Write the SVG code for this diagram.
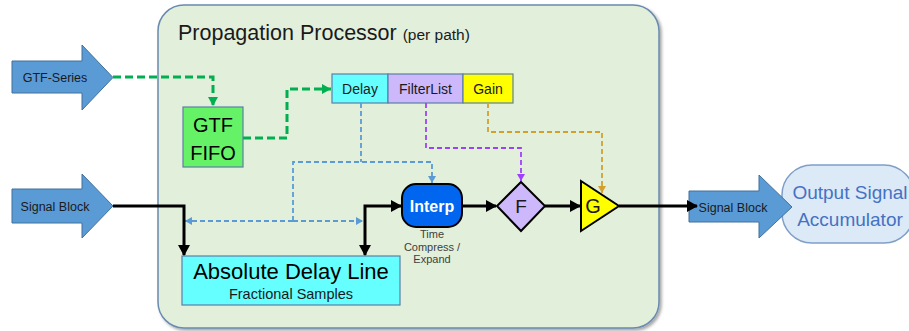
<svg xmlns="http://www.w3.org/2000/svg" width="909" height="331" viewBox="0 0 909 331">
  <defs>
    <style>
      text { font-family: "Liberation Sans", Arial, sans-serif; }
      .blk { fill: #5b9bd5; stroke: #41719c; stroke-width: 1; }
      .blkTxt { font-size: 12.5px; fill: #1a1a1a; }
      .box { stroke: #5b7fa6; stroke-width: 1.2; }
      .flow { fill: none; stroke: #000; stroke-width: 3; }
      .gtf { fill: none; stroke: #00b050; stroke-width: 3; stroke-dasharray: 8 4; }
      .dly { fill: none; stroke: #5b9bd5; stroke-width: 1.8; stroke-dasharray: 5 3; }
      .flt { fill: none; stroke: #a040ff; stroke-width: 1.8; stroke-dasharray: 5 3; }
      .gn { fill: none; stroke: #d4a02a; stroke-width: 1.8; stroke-dasharray: 5 3; }
    </style>
    <filter id="shadow" x="-5%" y="-5%" width="110%" height="110%">
      <feDropShadow dx="2" dy="2" stdDeviation="1.5" flood-color="#000" flood-opacity="0.35"/>
    </filter>
    <marker id="ahBlack" markerUnits="userSpaceOnUse" markerWidth="12" markerHeight="12" refX="10" refY="6" orient="auto-start-reverse">
      <path d="M0,0 L11,6 L0,12 Z" fill="#000"/>
    </marker>
    <marker id="ahGreen" markerUnits="userSpaceOnUse" markerWidth="10" markerHeight="10" refX="9" refY="5" orient="auto">
      <path d="M0,0 L9,5 L0,10 Z" fill="#00b050"/>
    </marker>
    <marker id="ahBlue" markerUnits="userSpaceOnUse" markerWidth="8" markerHeight="8" refX="7" refY="4" orient="auto">
      <path d="M0,0 L7,4 L0,8 Z" fill="#5b9bd5"/>
    </marker>
    <marker id="ahPurple" markerUnits="userSpaceOnUse" markerWidth="8" markerHeight="8" refX="7" refY="4" orient="auto">
      <path d="M0,0 L7,4 L0,8 Z" fill="#a040ff"/>
    </marker>
    <marker id="ahGold" markerUnits="userSpaceOnUse" markerWidth="8" markerHeight="8" refX="7" refY="4" orient="auto">
      <path d="M0,0 L7,4 L0,8 Z" fill="#d4a02a"/>
    </marker>
  </defs>

  <rect width="909" height="331" fill="#fff"/>

  <!-- Processor container -->
  <g id="propagation-processor">
    <rect x="158" y="5" width="501" height="323" rx="26" fill="#e2efda" stroke="#6a8bb0" stroke-width="1.5" filter="url(#shadow)"/>
    <text x="178" y="40" font-size="21.5" fill="#1a1a1a">Propagation Processor <tspan font-size="15.5">(per path)</tspan></text>
  </g>

  <!-- Input block arrows -->
  <g id="gtf-series">
    <path class="blk" d="M12,61 H82 V45 L113,77.5 L82,110 V93 H12 Z"/>
    <text class="blkTxt" x="55" y="82" text-anchor="middle">GTF-Series</text>
  </g>
  <g id="signal-block-in">
    <path class="blk" d="M12,189 H82 V174 L113,206 L82,238 V223 H12 Z"/>
    <text class="blkTxt" x="55" y="211" text-anchor="middle">Signal Block</text>
  </g>

  <g id="gtf-fifo">
    <rect class="box" x="183" y="107" width="60" height="60" fill="#66f266"/>
    <text x="213" y="132" font-size="20" text-anchor="middle" fill="#000">GTF</text>
    <text x="213" y="160" font-size="20" text-anchor="middle" fill="#000">FIFO</text>
  </g>

  <!-- Parameter record: Delay | FilterList | Gain -->
  <g id="params">
    <rect class="box" x="332" y="74" width="56" height="29" fill="#66ffff"/>
    <rect class="box" x="388" y="74" width="75" height="29" fill="#ccb8fa"/>
    <rect class="box" x="463" y="74" width="50" height="29" fill="#ffff00"/>
    <text x="360" y="93.5" font-size="14" text-anchor="middle" fill="#1a1a1a">Delay</text>
    <text x="425.5" y="93.5" font-size="14" text-anchor="middle" fill="#1a1a1a">FilterList</text>
    <text x="488" y="93.5" font-size="14" text-anchor="middle" fill="#1a1a1a">Gain</text>
  </g>

  <g id="delay-line">
    <rect class="box" x="182" y="256" width="218" height="49" fill="#66ffff"/>
    <text x="291" y="279" font-size="22" text-anchor="middle" fill="#000">Absolute Delay Line</text>
    <text x="291" y="299" font-size="14.5" text-anchor="middle" fill="#1a1a1a">Fractional Samples</text>
  </g>

  <g id="interp">
    <rect x="402" y="184" width="60" height="43" rx="14" fill="#0066f0" stroke="#000" stroke-width="2"/>
    <text x="432" y="211.5" font-size="16" font-weight="bold" text-anchor="middle" fill="#fff">Interp</text>
    <text x="432" y="238" font-size="11" text-anchor="middle" fill="#404040">Time</text>
    <text x="432" y="250.5" font-size="11" text-anchor="middle" fill="#404040">Compress /</text>
    <text x="432" y="263" font-size="11" text-anchor="middle" fill="#404040">Expand</text>
  </g>

  <g id="filter">
    <polygon points="521,182 545,206 521,231 497,206" fill="#ccb8fa" stroke="#000" stroke-width="2"/>
    <text x="521" y="213" font-size="19" text-anchor="middle" fill="#1a1a1a">F</text>
  </g>

  <g id="gain">
    <polygon points="581,181 619,206 581,231" fill="#ffff00" stroke="#000" stroke-width="2"/>
    <text x="593" y="213" font-size="20" text-anchor="middle" fill="#1a1a1a">G</text>
  </g>

  <g id="output-accumulator">
    <rect x="782" y="165" width="132" height="78" rx="30" fill="#dce9f7" stroke="#7f9fc7" stroke-width="1.5"/>
    <text x="850" y="199" font-size="19" text-anchor="middle" fill="#4472c4">Output Signal</text>
    <text x="850" y="226" font-size="19" text-anchor="middle" fill="#4472c4">Accumulator</text>
  </g>

  <g id="signal-block-out">
    <path class="blk" d="M689,191 H759 V175 L792,207 L759,238 V222 H689 Z"/>
    <text class="blkTxt" x="733" y="212" text-anchor="middle">Signal Block</text>
  </g>

  <!-- Connectors -->
  <g id="connectors">
    <path class="gtf" d="M113,77 H213 V106" marker-end="url(#ahGreen)"/>
    <path class="gtf" d="M243,138 H287 V89 H331" marker-end="url(#ahGreen)"/>

    <path class="dly" d="M361,103 V162"/>
    <path class="dly" d="M293,221 V162 H432 V183" marker-end="url(#ahBlue)"/>
    <path class="dly" d="M293,221 H185" marker-end="url(#ahBlue)"/>
    <path class="dly" d="M293,221 H363" marker-end="url(#ahBlue)"/>

    <path class="flt" d="M426,103 V148 H521 V181" marker-end="url(#ahPurple)"/>
    <path class="gn" d="M488,103 V132 H602 V193" marker-end="url(#ahGold)"/>

    <path class="flow" d="M113,206 H184 V255" marker-end="url(#ahBlack)"/>
    <path class="flow" d="M365,255 V206 H401" marker-start="url(#ahBlack)" marker-end="url(#ahBlack)"/>
    <path class="flow" d="M462,206 H496" marker-end="url(#ahBlack)"/>
    <path class="flow" d="M545,206 H580" marker-end="url(#ahBlack)"/>
    <path class="flow" d="M619,206 H697" stroke-width="2.5" marker-end="url(#ahBlack)"/>
  </g>
</svg>
